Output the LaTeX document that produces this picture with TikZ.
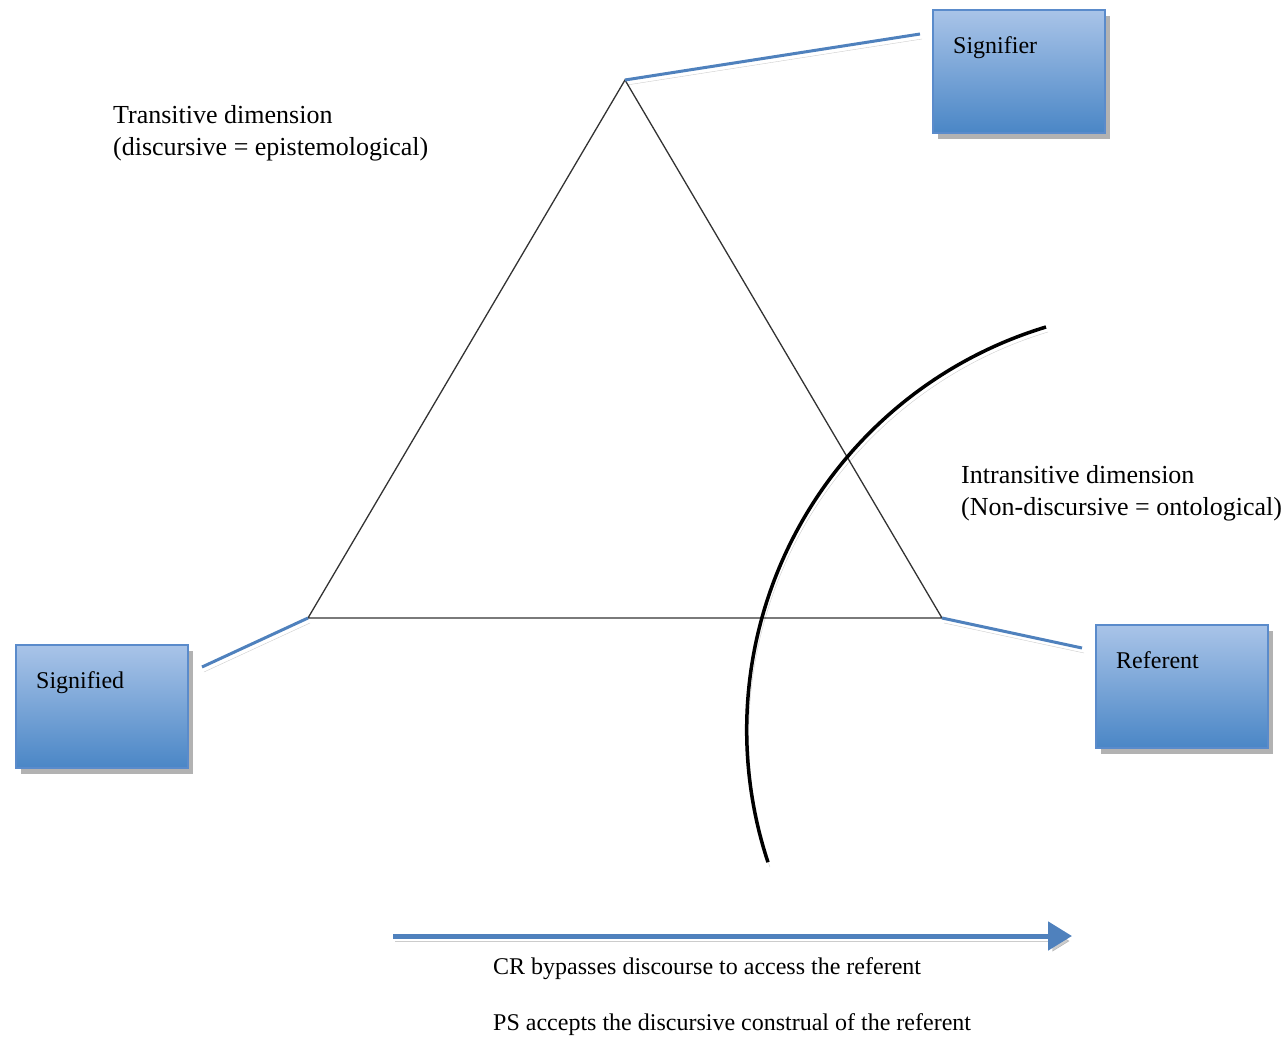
\documentclass[tikz,border=0pt]{standalone}
\usepackage{fontspec}
\setmainfont{Liberation Serif}
\usetikzlibrary{shadows,arrows.meta}
\definecolor{boxtop}{HTML}{A9C4E8}
\definecolor{boxbot}{HTML}{4A86C6}
\definecolor{boxedge}{HTML}{5A8BCB}
\definecolor{linkblue}{HTML}{4F81BD}
\begin{document}
\begin{tikzpicture}[x=1pt,y=1pt,
  box/.style={draw=boxedge, line width=2.2pt, top color=boxtop, bottom color=boxbot,
    minimum width=172pt, minimum height=123pt, anchor=north west, inner sep=0pt, outer sep=0pt,
    drop shadow={shadow xshift=5pt, shadow yshift=-6pt, fill=black, opacity=0.3}},
  boxtext/.style={font=\fontsize{24}{32}\selectfont, inner sep=0pt, anchor=north west, xshift=20pt, yshift=-26pt},
  tri/.style={draw=black!80, line width=1.3pt},
  shade line/.style={preaction={draw=black, opacity=0.2, transform canvas={xshift=2pt, yshift=-5pt}}},
  link/.style={draw=linkblue, line width=3pt, shade line},
  arcline/.style={draw=black, line width=3.5pt, shade line},
  arrowline/.style={draw=linkblue, line width=5pt, shade line, -{Triangle[length=24pt,width=28pt]}},
  lbl/.style={font=\fontsize{24}{32}\selectfont, align=left, inner sep=0pt, anchor=west},
  biglbl/.style={lbl, font=\fontsize{26}{32}\selectfont}
]
\useasboundingbox (0,0) rectangle (1288,-1038);
% boxes
\node[box, label={[boxtext]north west:Signifier}] (signifier) at (933,-10) {};
\node[box, label={[boxtext]north west:Signified}] (signified) at (16,-645) {};
\node[box, label={[boxtext]north west:Referent}] (referent) at (1096,-625) {};
% triangle
\coordinate (apex) at (625,-80);
\coordinate (bl) at (308,-618);
\coordinate (br) at (942,-618);
\draw[tri] (apex) -- (bl) -- (br) -- cycle;
% blue connectors
\coordinate (sigrEnd) at (920,-34);
\coordinate (sigdEnd) at (202,-667);
\coordinate (refEnd) at (1082,-648);
\draw[link] (apex) -- (sigrEnd);
\draw[link] (bl) -- (sigdEnd);
\draw[link] (br) -- (refEnd);
% arc
\coordinate (arcStart) at (1046,-327);
\draw[arcline] (arcStart) arc[start angle=106.8, end angle=198.3, radius=421];
% arrow
\coordinate (arrS) at (393,-936);
\coordinate (arrE) at (1072,-936);
\draw[arrowline] (arrS) -- (arrE);
% labels
\node[biglbl] (trans) at (113,-133) {Transitive dimension\\(discursive = epistemological)};
\node[biglbl] (intrans) at (961,-493) {Intransitive dimension\\(Non-discursive = ontological)};
\node[lbl] (cr) at (493,-969) {CR bypasses discourse to access the referent};
\node[lbl] (ps) at (493,-1025) {PS accepts the discursive construal of the referent};
\end{tikzpicture}
\end{document}
